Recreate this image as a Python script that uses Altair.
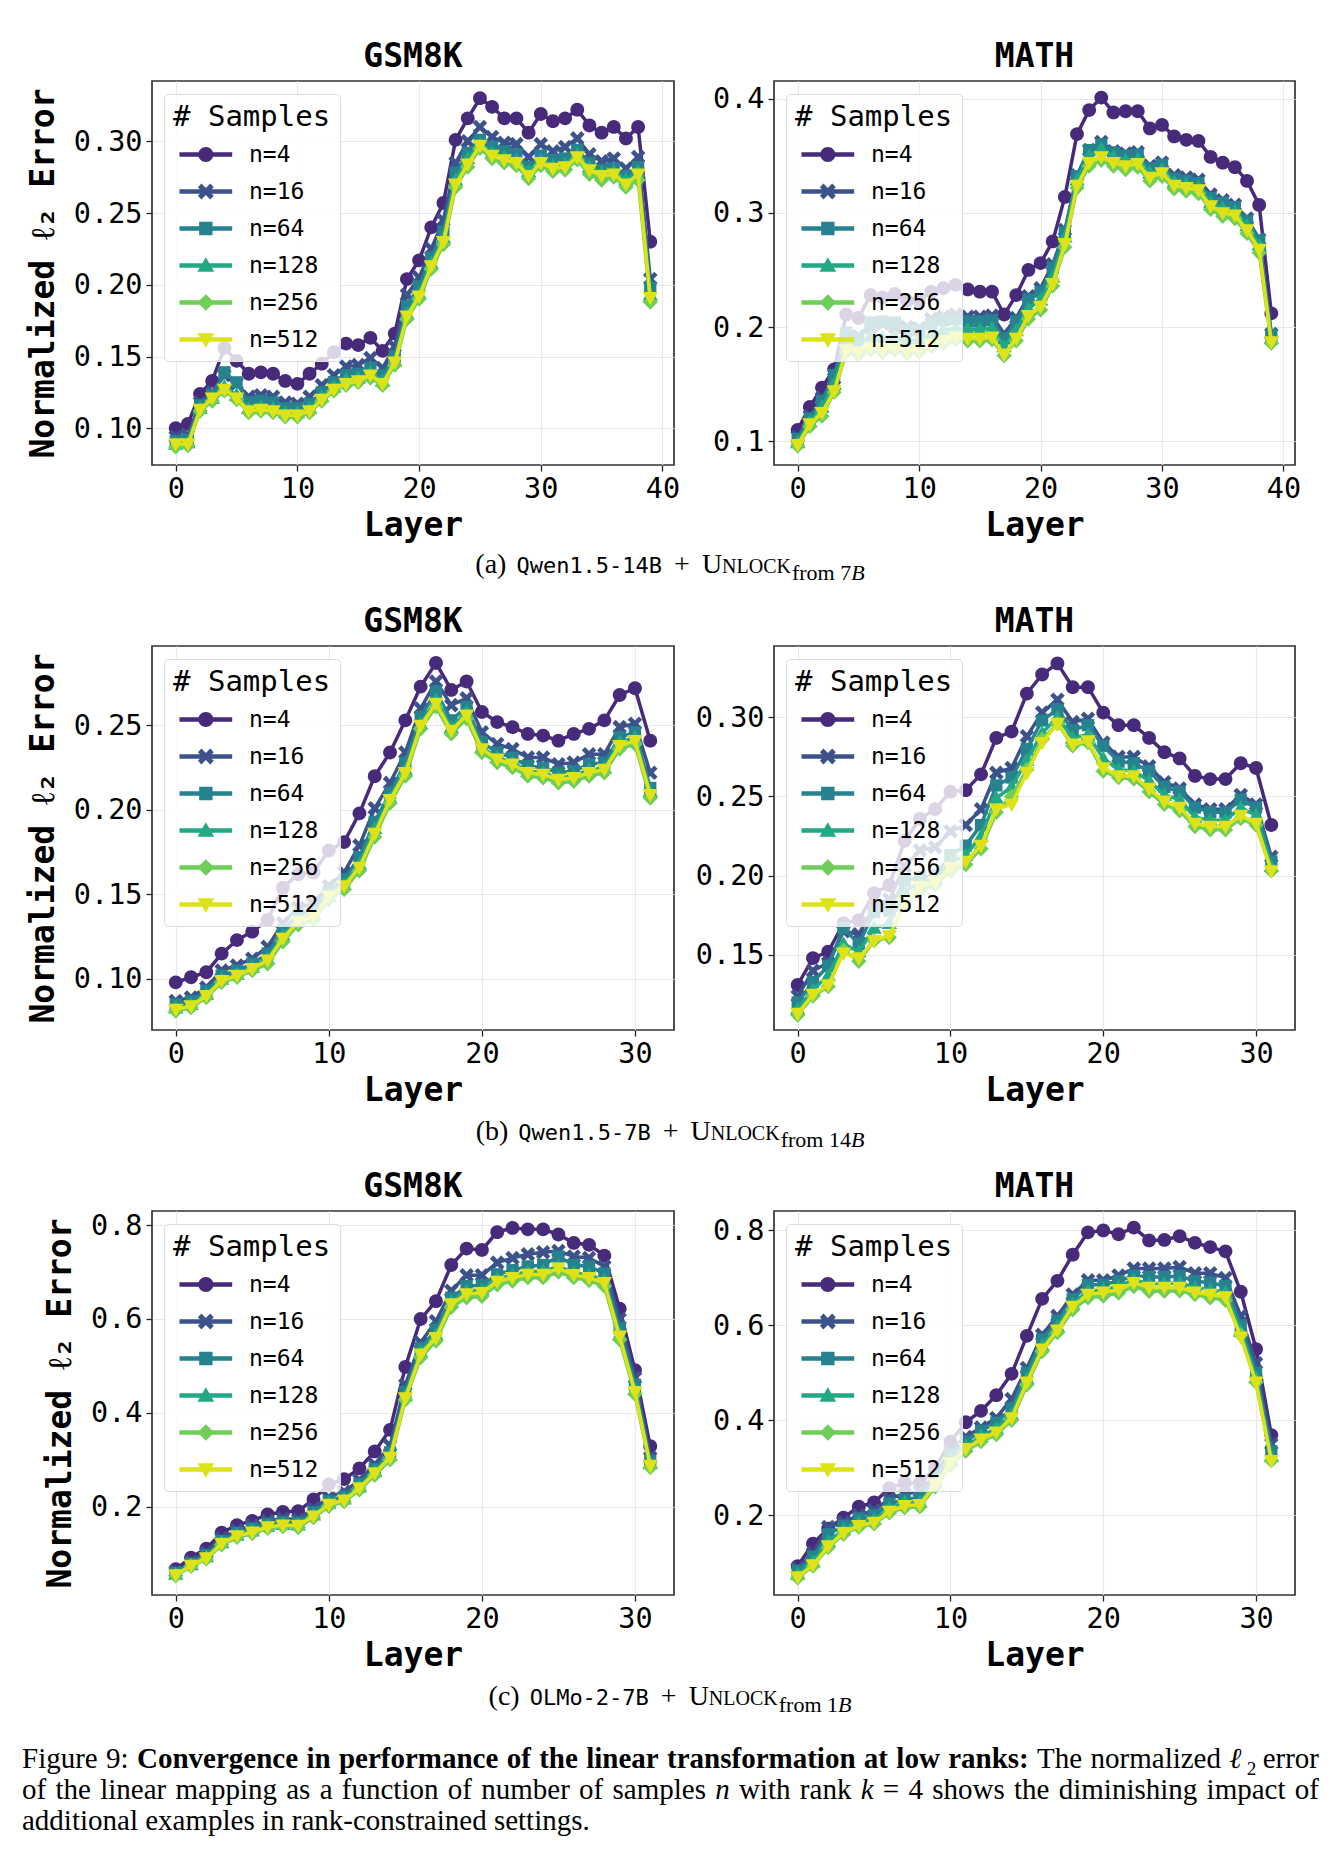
import altair as alt
import pandas as pd

SERIES = ["n=4", "n=16", "n=64", "n=128", "n=256", "n=512"]
COLORS = ["#472a7a", "#3b528b", "#26828e", "#22a884", "#6ece58", "#dde318"]
MARKER_KINDS = ["circle", "x", "square", "tri_up", "diamond", "tri_down"]

# ---- (a) Qwen1.5-14B, GSM8K ----
A_GSM = [
    [0.100,0.103,0.124,0.133,0.156,0.147,0.138,0.139,0.138,0.133,0.131,0.138,0.145,0.153,0.159,0.158,0.163,0.154,0.166,0.204,0.217,0.240,0.257,0.301,0.316,0.330,0.324,0.316,0.316,0.306,0.319,0.314,0.316,0.322,0.311,0.306,0.310,0.302,0.310,0.230],
    [0.094,0.095,0.118,0.125,0.137,0.131,0.122,0.123,0.122,0.118,0.117,0.122,0.130,0.137,0.143,0.144,0.149,0.142,0.157,0.193,0.205,0.225,0.245,0.285,0.300,0.310,0.303,0.299,0.298,0.289,0.298,0.293,0.296,0.302,0.291,0.286,0.288,0.281,0.289,0.204],
    [0.091,0.092,0.116,0.123,0.139,0.132,0.118,0.119,0.118,0.114,0.114,0.117,0.125,0.132,0.137,0.138,0.142,0.137,0.150,0.185,0.199,0.219,0.237,0.278,0.292,0.301,0.296,0.293,0.291,0.282,0.290,0.287,0.288,0.294,0.285,0.280,0.281,0.276,0.282,0.198],
    [0.089,0.090,0.114,0.121,0.129,0.123,0.114,0.115,0.114,0.111,0.111,0.114,0.122,0.129,0.134,0.135,0.139,0.133,0.147,0.180,0.194,0.215,0.233,0.273,0.288,0.298,0.292,0.289,0.287,0.279,0.287,0.283,0.284,0.291,0.282,0.278,0.279,0.273,0.279,0.193],
    [0.087,0.088,0.112,0.119,0.126,0.120,0.111,0.112,0.111,0.108,0.108,0.111,0.119,0.126,0.130,0.132,0.135,0.130,0.144,0.176,0.190,0.211,0.228,0.268,0.282,0.295,0.288,0.285,0.283,0.274,0.283,0.279,0.280,0.287,0.277,0.273,0.275,0.268,0.273,0.188],
    [0.089,0.089,0.113,0.121,0.127,0.121,0.112,0.113,0.112,0.109,0.109,0.112,0.120,0.127,0.131,0.133,0.137,0.131,0.146,0.178,0.192,0.213,0.230,0.270,0.284,0.297,0.290,0.287,0.285,0.276,0.285,0.281,0.282,0.289,0.280,0.276,0.277,0.270,0.277,0.191],
]
# ---- (a) Qwen1.5-14B, MATH ----
A_MATH = [
    [0.110,0.130,0.147,0.163,0.211,0.208,0.228,0.226,0.229,0.223,0.223,0.231,0.234,0.237,0.233,0.231,0.231,0.211,0.228,0.250,0.256,0.275,0.314,0.369,0.390,0.401,0.388,0.389,0.389,0.374,0.377,0.367,0.364,0.363,0.349,0.344,0.340,0.328,0.307,0.212],
    [0.104,0.122,0.138,0.155,0.190,0.192,0.200,0.203,0.200,0.200,0.199,0.207,0.209,0.211,0.209,0.209,0.210,0.194,0.208,0.227,0.234,0.255,0.285,0.333,0.355,0.362,0.354,0.352,0.353,0.341,0.344,0.333,0.331,0.329,0.316,0.311,0.307,0.295,0.277,0.194],
    [0.102,0.120,0.135,0.158,0.195,0.190,0.204,0.205,0.204,0.197,0.197,0.203,0.206,0.207,0.205,0.205,0.206,0.190,0.205,0.224,0.231,0.252,0.283,0.332,0.355,0.360,0.353,0.350,0.351,0.339,0.342,0.330,0.328,0.326,0.313,0.309,0.305,0.293,0.276,0.193],
    [0.099,0.117,0.130,0.150,0.186,0.183,0.192,0.191,0.192,0.188,0.189,0.194,0.197,0.199,0.198,0.198,0.199,0.183,0.197,0.216,0.224,0.244,0.279,0.329,0.350,0.356,0.349,0.346,0.347,0.335,0.338,0.327,0.325,0.323,0.309,0.304,0.301,0.289,0.272,0.190],
    [0.096,0.113,0.122,0.143,0.178,0.176,0.180,0.178,0.180,0.177,0.178,0.183,0.186,0.189,0.188,0.188,0.189,0.175,0.188,0.207,0.215,0.236,0.270,0.322,0.341,0.346,0.341,0.338,0.340,0.328,0.332,0.321,0.319,0.317,0.303,0.297,0.295,0.282,0.265,0.186],
    [0.097,0.115,0.125,0.144,0.180,0.178,0.182,0.180,0.182,0.179,0.180,0.185,0.188,0.191,0.190,0.190,0.191,0.176,0.190,0.210,0.218,0.238,0.273,0.324,0.344,0.349,0.344,0.341,0.343,0.331,0.335,0.324,0.322,0.320,0.306,0.300,0.298,0.285,0.268,0.187],
]
# ---- (b) Qwen1.5-7B, GSM8K ----
B_GSM = [
    [0.098,0.101,0.104,0.115,0.123,0.128,0.135,0.154,0.162,0.163,0.176,0.181,0.198,0.220,0.234,0.253,0.273,0.287,0.271,0.276,0.258,0.252,0.249,0.245,0.244,0.241,0.245,0.248,0.253,0.268,0.272,0.241],
    [0.087,0.089,0.095,0.105,0.108,0.112,0.119,0.133,0.142,0.145,0.155,0.163,0.179,0.201,0.216,0.234,0.260,0.276,0.262,0.266,0.246,0.239,0.236,0.231,0.231,0.227,0.228,0.233,0.233,0.249,0.251,0.222],
    [0.085,0.087,0.093,0.102,0.105,0.109,0.115,0.129,0.138,0.141,0.152,0.159,0.172,0.193,0.210,0.228,0.255,0.270,0.253,0.261,0.240,0.234,0.231,0.226,0.225,0.222,0.223,0.227,0.228,0.243,0.246,0.213],
    [0.083,0.085,0.091,0.100,0.103,0.107,0.112,0.126,0.135,0.138,0.149,0.156,0.168,0.189,0.207,0.224,0.251,0.265,0.249,0.258,0.237,0.231,0.228,0.223,0.222,0.219,0.220,0.224,0.225,0.240,0.243,0.211],
    [0.081,0.083,0.089,0.098,0.101,0.105,0.109,0.122,0.132,0.135,0.147,0.153,0.164,0.184,0.204,0.220,0.248,0.261,0.245,0.254,0.234,0.228,0.225,0.220,0.219,0.216,0.217,0.220,0.222,0.236,0.239,0.207],
    [0.082,0.084,0.090,0.099,0.102,0.106,0.111,0.124,0.134,0.137,0.149,0.155,0.166,0.186,0.206,0.222,0.250,0.263,0.247,0.256,0.236,0.230,0.227,0.222,0.221,0.218,0.219,0.222,0.224,0.238,0.241,0.209],
]
# ---- (b) Qwen1.5-7B, MATH ----
B_MATH = [
    [0.131,0.148,0.152,0.170,0.172,0.189,0.194,0.222,0.236,0.242,0.253,0.254,0.264,0.287,0.291,0.315,0.327,0.334,0.319,0.319,0.303,0.295,0.295,0.287,0.278,0.274,0.263,0.261,0.261,0.271,0.268,0.232],
    [0.124,0.140,0.145,0.165,0.163,0.181,0.185,0.206,0.216,0.218,0.228,0.232,0.242,0.265,0.268,0.288,0.303,0.311,0.297,0.299,0.284,0.275,0.275,0.269,0.259,0.255,0.245,0.242,0.242,0.251,0.245,0.212],
    [0.120,0.133,0.143,0.167,0.157,0.177,0.178,0.197,0.199,0.200,0.213,0.219,0.232,0.257,0.262,0.280,0.298,0.305,0.292,0.295,0.282,0.272,0.271,0.266,0.256,0.253,0.243,0.240,0.240,0.248,0.243,0.209],
    [0.116,0.128,0.137,0.157,0.152,0.167,0.170,0.190,0.196,0.198,0.209,0.213,0.225,0.249,0.256,0.273,0.290,0.300,0.287,0.289,0.274,0.267,0.266,0.260,0.251,0.248,0.237,0.235,0.235,0.243,0.238,0.206],
    [0.112,0.124,0.130,0.153,0.146,0.159,0.161,0.183,0.191,0.194,0.203,0.207,0.217,0.240,0.250,0.267,0.286,0.296,0.282,0.284,0.266,0.262,0.261,0.253,0.245,0.241,0.231,0.229,0.229,0.236,0.232,0.203],
    [0.113,0.125,0.131,0.151,0.148,0.159,0.162,0.183,0.193,0.196,0.205,0.209,0.219,0.242,0.245,0.265,0.284,0.296,0.283,0.285,0.268,0.263,0.263,0.255,0.247,0.243,0.233,0.231,0.231,0.238,0.233,0.203],
]
# ---- (c) OLMo-2-7B, GSM8K ----
C_GSM = [
    [0.067,0.092,0.111,0.145,0.161,0.170,0.184,0.189,0.191,0.216,0.248,0.259,0.282,0.318,0.364,0.498,0.600,0.638,0.715,0.750,0.747,0.785,0.794,0.791,0.791,0.780,0.762,0.758,0.735,0.622,0.491,0.329],
    [0.062,0.083,0.103,0.133,0.150,0.160,0.170,0.175,0.173,0.196,0.220,0.232,0.257,0.290,0.330,0.460,0.550,0.595,0.660,0.693,0.693,0.720,0.730,0.738,0.742,0.745,0.733,0.730,0.712,0.600,0.475,0.305],
    [0.059,0.079,0.097,0.127,0.144,0.153,0.163,0.167,0.166,0.188,0.212,0.222,0.248,0.280,0.316,0.445,0.538,0.577,0.645,0.670,0.672,0.695,0.704,0.712,0.715,0.733,0.715,0.712,0.697,0.580,0.460,0.298],
    [0.057,0.077,0.094,0.124,0.140,0.149,0.159,0.163,0.162,0.183,0.208,0.217,0.243,0.275,0.310,0.437,0.530,0.567,0.637,0.660,0.662,0.686,0.694,0.701,0.702,0.712,0.699,0.694,0.683,0.567,0.450,0.292],
    [0.053,0.073,0.089,0.119,0.135,0.143,0.154,0.158,0.156,0.177,0.201,0.211,0.236,0.267,0.300,0.428,0.518,0.553,0.625,0.645,0.648,0.673,0.681,0.688,0.688,0.700,0.688,0.682,0.670,0.556,0.440,0.284],
    [0.055,0.075,0.091,0.122,0.138,0.146,0.157,0.161,0.160,0.180,0.205,0.214,0.240,0.272,0.305,0.432,0.525,0.560,0.632,0.653,0.656,0.680,0.688,0.695,0.695,0.708,0.694,0.688,0.677,0.563,0.445,0.288],
]
# ---- (c) OLMo-2-7B, MATH ----
C_MATH = [
    [0.093,0.140,0.172,0.195,0.218,0.227,0.257,0.268,0.268,0.300,0.355,0.396,0.420,0.453,0.498,0.578,0.656,0.694,0.749,0.796,0.800,0.792,0.806,0.779,0.780,0.788,0.774,0.765,0.756,0.671,0.550,0.369],
    [0.088,0.120,0.175,0.185,0.200,0.210,0.235,0.245,0.250,0.285,0.335,0.365,0.385,0.405,0.445,0.510,0.580,0.620,0.665,0.695,0.695,0.705,0.720,0.720,0.720,0.723,0.710,0.710,0.700,0.620,0.520,0.350],
    [0.083,0.112,0.160,0.178,0.193,0.200,0.225,0.233,0.238,0.278,0.328,0.355,0.378,0.395,0.425,0.500,0.570,0.610,0.655,0.685,0.686,0.693,0.705,0.702,0.702,0.704,0.693,0.690,0.683,0.600,0.500,0.335],
    [0.076,0.102,0.145,0.170,0.185,0.192,0.215,0.227,0.228,0.270,0.318,0.345,0.367,0.383,0.413,0.488,0.558,0.598,0.645,0.672,0.675,0.682,0.696,0.688,0.688,0.690,0.680,0.675,0.670,0.588,0.490,0.325],
    [0.068,0.093,0.132,0.160,0.175,0.182,0.205,0.216,0.218,0.260,0.305,0.335,0.355,0.370,0.400,0.475,0.545,0.585,0.633,0.658,0.662,0.668,0.682,0.672,0.672,0.673,0.665,0.658,0.653,0.580,0.480,0.315],
    [0.070,0.095,0.135,0.163,0.178,0.185,0.208,0.220,0.222,0.265,0.310,0.340,0.360,0.375,0.405,0.480,0.550,0.590,0.640,0.665,0.670,0.675,0.690,0.680,0.680,0.680,0.670,0.665,0.660,0.575,0.480,0.315],
]

Y_TITLE = "Normalized ℓ₂ Error"
MONO = "DejaVu Sans Mono"
SERIF = "Liberation Serif"

CAPTION_LINES = [
    [("Figure", "r"), ("9:", "r"), ("Convergence", "b"), ("in", "b"), ("performance", "b"), ("of", "b"),
     ("the", "b"), ("linear", "b"), ("transformation", "b"), ("at", "b"), ("low", "b"), ("ranks:", "b"),
     ("The", "r"), ("normalized", "r"), ("ℓ", "ell"), ("error", "r")],
    [(w, "r") for w in "of the linear mapping as a function of number of samples".split()]
    + [("n", "i")] + [(w, "r") for w in "with rank".split()] + [("k", "i")]
    + [(w, "r") for w in "= 4 shows the diminishing impact of".split()],
    [("additional examples in rank-constrained settings.", "r")],
]

# ---------- text metrics (Times-compatible Liberation Serif, per 1000 em) ----------
_REG = dict(zip("abcdefghijklmnopqrstuvwxyz",
                [444, 500, 444, 500, 444, 333, 500, 500, 278, 278, 500, 278, 778, 500, 500, 500, 500, 333, 389, 278, 500, 500, 722, 500, 500, 444]))
_REG.update({" ": 250, "(": 333, ")": 333, "+": 564, "-": 333, ".": 250, ":": 278, "=": 564, "F": 556,
             "T": 611, "U": 722, "N": 722, "L": 611, "O": 722, "C": 667, "K": 722, "B": 667, "ℓ": 460})
_REG.update({d: 500 for d in "0123456789"})
_BOLD = dict(zip("abcdefghijklmnopqrstuvwxyz",
                 [500, 556, 444, 556, 444, 333, 500, 556, 278, 333, 556, 278, 833, 556, 500, 556, 556, 444, 389, 333, 556, 500, 722, 500, 500, 444]))
_BOLD.update({" ": 250, ":": 333, "C": 722})
_ITAL = {"n": 500, "k": 444, "B": 611}

def tw(s, size, style="r"):
    table = {"r": _REG, "b": _BOLD, "i": _ITAL, "ell": _REG}[style]
    w = sum(table.get(ch, 500) for ch in s)
    if style == "ell":
        w += 0.8 * 500
    return w * size / 1000.0

# ---------- marker geometry ----------
def _poly(pts, cx=0.0, s=1.0):
    return "M" + "L".join(f"{cx + px * s:.3f},{py * s:.3f}" for px, py in pts) + "Z"

def marker_path(kind, cx=0.0, k=1.0):
    if kind == "circle":
        r = 0.9 * k
        return f"M{cx + r:.3f},0A{r:.3f},{r:.3f} 0 1,1 {cx - r:.3f},0A{r:.3f},{r:.3f} 0 1,1 {cx + r:.3f},0Z"
    if kind == "square":
        return _poly([(-1, -1), (1, -1), (1, 1), (-1, 1)], cx, 0.8 * k)
    if kind == "x":
        return _poly([(-0.55, -1), (0, -0.45), (0.55, -1), (1, -0.55), (0.45, 0), (1, 0.55),
                      (0.55, 1), (0, 0.45), (-0.55, 1), (-1, 0.55), (-0.45, 0), (-1, -0.55)], cx, 0.95 * k)
    if kind == "tri_up":
        return _poly([(0, -1), (1, 0.75), (-1, 0.75)], cx, 1.0 * k)
    if kind == "diamond":
        return _poly([(0, -1), (1, 0), (0, 1), (-1, 0)], cx, 1.0 * k)
    return _poly([(-1, -0.75), (1, -0.75), (0, 1)], cx, 1.0 * k)

def legend_path(kind):
    # units of sqrt(symbolSize)/2 px: a short line with the marker in its middle
    line = "M-0.60,-0.26H5.70V0.26H-0.60Z"
    return line + marker_path(kind, 2.55)

POINT_PATHS = [marker_path(k) for k in MARKER_KINDS]
LEGEND_PATHS = [legend_path(k) for k in MARKER_KINDS]


def txt(s, x, y, size, font=SERIF, weight="normal", style="normal"):
    return alt.Chart(pd.DataFrame({"k": [0]})).mark_text(
        text=s, font=font, fontSize=size, fontWeight=weight, fontStyle=style,
        align="left", baseline="alphabetic", color="black"
    ).encode(x=alt.value(x), y=alt.value(y))


def panel(vals, title, ydom, yvals, yfmt, xdom, xvals, width, ytitle=True, extra=()):
    lay, err, nn = [], [], []
    for s, arr in zip(SERIES, vals):
        for i, v in enumerate(arr):
            lay.append(i); err.append(v); nn.append(s)
    df = pd.DataFrame({"layer": lay, "err": err, "n": nn})
    base = alt.Chart(df)
    x = alt.X("layer:Q", scale=alt.Scale(domain=xdom, nice=False, zero=False),
              axis=alt.Axis(values=xvals, format="d", title="Layer"))
    y = alt.Y("err:Q", scale=alt.Scale(domain=ydom, nice=False, zero=False),
              axis=alt.Axis(values=yvals, format=yfmt, title=Y_TITLE if ytitle else ""))
    layers = []
    for s, c, p in zip(SERIES, COLORS, POINT_PATHS):
        f = base.transform_filter(alt.datum.n == s)
        layers.append(f.mark_line(color=c, strokeWidth=3.5).encode(x=x, y=y))
        layers.append(f.mark_point(shape=p, filled=True, size=235, color=c,
                                   opacity=1, strokeWidth=0).encode(x=x, y=y))
    leg = alt.Legend(
        orient="none", legendX=12, legendY=13, title="# Samples",
        titleFont=MONO, titleFontSize=29, titleFontWeight="normal", titleColor="black",
        titlePadding=11, labelFont=MONO, labelFontSize=23, labelColor="black",
        labelOffset=53, symbolSize=280, symbolStrokeWidth=0, symbolOpacity=1,
        rowPadding=13, padding=9, fillColor="rgba(255,255,255,0.8)",
        strokeColor="#dcdcdc", cornerRadius=4,
    )
    layers.append(
        base.transform_filter("false").mark_point(filled=True, opacity=1).encode(
            x=x, y=y,
            color=alt.Color("n:N", title="# Samples",
                            scale=alt.Scale(domain=SERIES, range=COLORS), legend=leg),
            shape=alt.Shape("n:N", title="# Samples",
                            scale=alt.Scale(domain=SERIES, range=LEGEND_PATHS), legend=leg),
        )
    )
    layers.extend(extra)
    return alt.layer(*layers).properties(width=width, height=384, title=title)


X40 = [-1.95, 40.95]
X32 = [-1.55, 32.55]
T40 = [0, 10, 20, 30, 40]
T32 = [0, 10, 20, 30]
L0 = 151  # page x of the left plot's left edge


def sub_caption(label, model, frm, ybase, center=669):
    S, SC, SUB, MS = 28, 20, 22, 22
    parts = [
        (label, S, SERIF, "normal", 0, tw(label, S) + 10),
        (model, MS, MONO, "normal", 0, len(model) * 0.602 * MS + 12),
        ("+", S, SERIF, "normal", 0, tw("+", S) + 12),
        ("U", S, SERIF, "normal", 0, tw("U", S)),
        ("NLOCK", SC, SERIF, "normal", 0, tw("NLOCK", SC) + 1),
        (frm, SUB, SERIF, "normal", 7, tw(frm, SUB)),
        ("B", SUB, SERIF, "italic", 7, tw("B", SUB, "i")),
    ]
    total = sum(p[5] for p in parts)
    xpos = center - total / 2
    out = []
    for s, size, font, style, dy, adv in parts:
        out.append(txt(s, xpos - L0, ybase + dy, size, font=font, style=style))
        xpos += adv
    return out


def figure_caption(top_y, left=21, right=1318, S=29, pitch=31):
    out = []
    for li, tokens in enumerate(CAPTION_LINES):
        y = top_y + li * pitch
        widths = [tw(w, S, st) for w, st in tokens]
        gap = (right - left - sum(widths)) / (len(tokens) - 1) if len(tokens) > 1 else 0
        xpos = left
        for (w, st), wd in zip(tokens, widths):
            if st == "ell":
                out.append(txt("ℓ", xpos - L0, y, S, style="italic"))
                out.append(txt("2", xpos + tw("ℓ", S) + 4 - L0, y + 7, S * 0.66))
            else:
                out.append(txt(w, xpos - L0, y, S,
                               weight="bold" if st == "b" else "normal",
                               style="italic" if st == "i" else "normal"))
            xpos += wd + gap
    return out


cap_a = sub_caption("(a)", "Qwen1.5-14B", "from 7", 492)
cap_b = sub_caption("(b)", "Qwen1.5-7B", "from 14", 494)
cap_c = sub_caption("(c)", "OLMo-2-7B", "from 1", 494)
fig_cap = figure_caption(557)

p1 = panel(A_GSM, "GSM8K", [0.0744, 0.342], [0.10, 0.15, 0.20, 0.25, 0.30], ".2f", X40, T40, 522, True, cap_a)
p2 = panel(A_MATH, "MATH", [0.0792, 0.4155], [0.1, 0.2, 0.3, 0.4], ".1f", X40, T40, 521, False)
p3 = panel(B_GSM, "GSM8K", [0.0698, 0.297], [0.10, 0.15, 0.20, 0.25], ".2f", X32, T32, 522, True, cap_b)
p4 = panel(B_MATH, "MATH", [0.1026, 0.345], [0.15, 0.20, 0.25, 0.30], ".2f", X32, T32, 521, False)
p5 = panel(C_GSM, "GSM8K", [0.0122, 0.830], [0.2, 0.4, 0.6, 0.8], ".1f", X32, T32, 522, True, cap_c + fig_cap)
p6 = panel(C_MATH, "MATH", [0.032, 0.841], [0.2, 0.4, 0.6, 0.8], ".1f", X32, T32, 521, False)

chart = alt.concat(
    p1, p2, p3, p4, p5, p6, columns=2, spacing={"row": 181, "column": 100}, bounds="flush"
).resolve_scale(
    color="independent", shape="independent"
).resolve_legend(
    color="independent", shape="independent"
).properties(
    padding={"left": 21, "top": 40, "right": 5, "bottom": 5}
).configure_view(
    stroke="#333333", strokeWidth=1.7
).configure_axis(
    labelFont=MONO, labelFontSize=28.5, labelColor="black",
    titleFont=MONO, titleFontSize=33, titleFontWeight="bold", titleColor="black",
    tickColor="#222222", tickSize=6, tickWidth=1.3, domain=False,
    grid=True, gridColor="#e8e8e8", gridWidth=1.2, labelFlush=False,
).configure_axisX(
    labelPadding=3, titlePadding=7
).configure_axisY(
    labelPadding=4, titlePadding=13
).configure_title(
    font=MONO, fontSize=33, fontWeight="bold", color="black", anchor="middle", offset=7
)

chart.save("out.html", embed_options={"renderer": "svg", "actions": False})
